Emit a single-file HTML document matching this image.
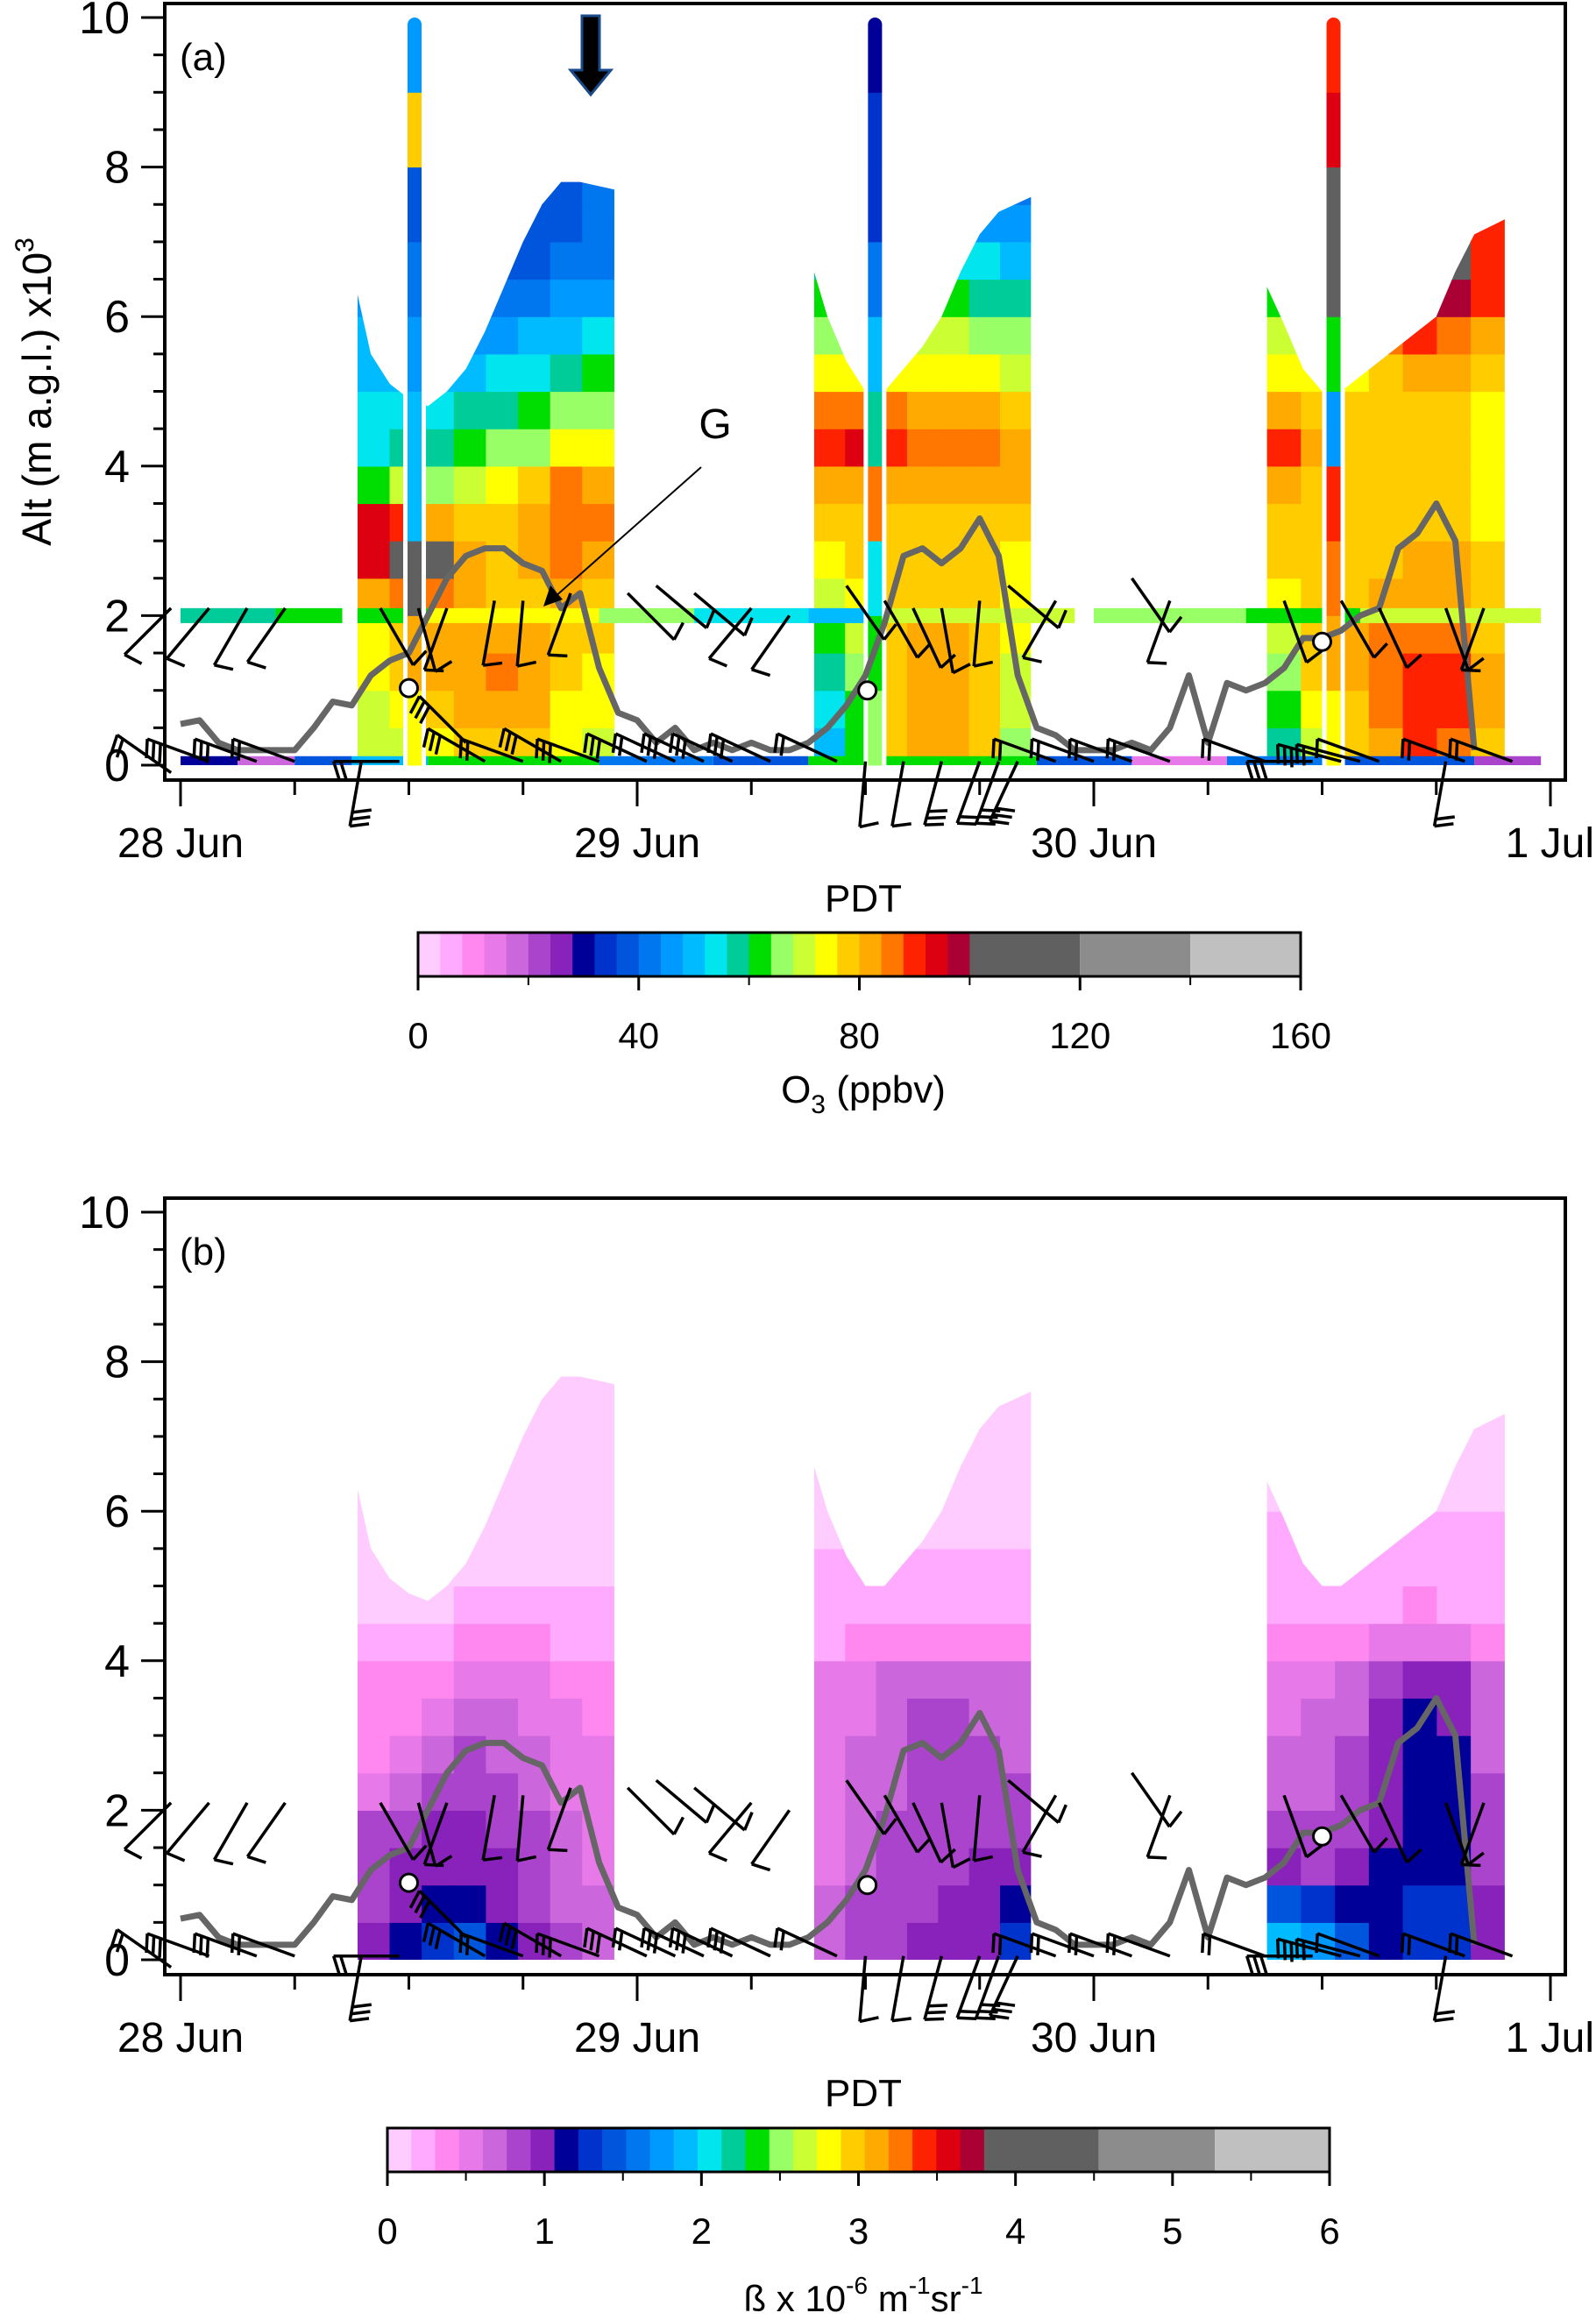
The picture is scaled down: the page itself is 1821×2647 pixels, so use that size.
<!DOCTYPE html>
<html><head><meta charset="utf-8"><style>
body{margin:0;background:#fff}
svg{display:block}
text{font-family:"Liberation Sans",sans-serif;fill:#000}
</style></head><body>
<svg id="fig" width="1821" height="2647" viewBox="0 0 1821 2647" xmlns="http://www.w3.org/2000/svg"></svg>
<script>
// ---- data ----
const dayLabels=["28 Jun","29 Jun","30 Jun","1 Jul"];
const yTickLabels=["0","2","4","6","8","10"];
const o3CbarTicks=["0","40","80","120","160"];
const betaCbarTicks=["0","1","2","3","4","5","6"];
const blockHours=[[9.3,22.8],[33.3,44.7],[57.1,69.6]];
const top1=[[9.3,6.3],[10,5.5],[11,5.1],[12,4.9],[13,4.8],[14,5.0],[15,5.3],[16,5.8],[17,6.4],[18,7.0],[19,7.5],[20,7.8],[21,7.8],[22.8,7.7]];
const top2=[[33.3,6.6],[34,6.0],[35,5.4],[36,5.0],[37,5.0],[38,5.3],[39,5.6],[40,6.0],[41,6.6],[42,7.1],[43,7.4],[44.7,7.6]];
const top3=[[57.1,6.4],[58,5.9],[59,5.3],[60,5.0],[61,5.0],[62,5.2],[63,5.4],[64,5.6],[65,5.8],[66,6.0],[67,6.6],[68,7.1],[69.6,7.3]];
const o3Block1=[[68,70,72,74,82,92,95,62,55,52,50,48,45,42,40,40],[70,74,76,78,84,100,90,70,58,54,50,45,42,40,38,38],[74,78,80,80,86,104,80,66,58,54,48,42,40,38,36,36],[76,80,82,80,80,80,76,70,62,56,50,44,40,36,34,34],[78,82,84,80,78,78,76,72,64,58,52,46,40,36,34,34],[76,80,82,80,78,80,82,76,66,60,54,48,42,38,36,36],[72,74,76,78,80,84,86,84,72,64,58,50,44,40,38,38],[70,72,74,76,78,82,84,82,72,66,60,52,46,42,40,40]];
const o3Block2=[[50,52,56,60,70,74,76,80,88,84,72,66,60,58,56,56],[60,62,64,70,74,76,78,82,92,86,74,66,60,56,54,54],[76,78,78,78,78,76,76,80,88,84,74,68,62,58,54,54],[80,82,82,80,78,76,76,80,86,82,74,68,62,56,50,50],[80,82,82,80,78,78,76,80,84,82,74,68,60,54,48,46],[76,78,78,78,76,76,76,80,86,82,72,66,58,52,46,44],[66,68,70,72,74,74,76,80,82,78,70,64,56,50,44,42]];
const o3Block3=[[58,62,66,70,74,76,76,80,88,82,74,68,62,60,60,60],[70,74,76,78,78,76,76,78,82,78,72,66,62,60,60,60],[76,78,80,80,78,76,76,76,78,76,74,70,66,64,62,62],[82,84,86,84,80,78,76,76,78,76,78,84,96,104,94,90],[88,90,90,86,82,80,78,78,78,78,82,88,100,106,94,92],[86,88,88,84,80,80,78,78,78,78,80,86,96,102,92,90],[78,80,80,78,76,76,74,74,74,74,76,82,88,90,88,88]];
const betaBlock1=[[0.95,0.9,0.85,0.8,0.55,0.45,0.4,0.35,0.2,0.15,0.1,0.1,0.08,0.08,0.08,0.08],[1.15,1.05,0.95,0.9,0.75,0.55,0.45,0.4,0.25,0.15,0.1,0.1,0.08,0.08,0.08,0.08],[1.25,1.1,1.0,0.95,0.85,0.7,0.6,0.45,0.3,0.15,0.1,0.1,0.08,0.08,0.08,0.08],[1.4,1.15,1.05,0.95,0.9,0.8,0.7,0.55,0.35,0.2,0.12,0.1,0.08,0.08,0.08,0.08],[1.15,1.05,0.95,0.9,0.85,0.75,0.65,0.55,0.4,0.25,0.15,0.1,0.08,0.08,0.08,0.08],[0.95,0.9,0.85,0.8,0.75,0.65,0.6,0.5,0.35,0.2,0.15,0.1,0.08,0.08,0.08,0.08],[0.8,0.75,0.7,0.65,0.6,0.55,0.5,0.45,0.3,0.2,0.15,0.1,0.08,0.08,0.08,0.08],[0.7,0.65,0.6,0.6,0.55,0.5,0.45,0.4,0.3,0.2,0.15,0.1,0.08,0.08,0.08,0.08]];
const betaBlock2=[[0.7,0.65,0.6,0.6,0.55,0.55,0.5,0.5,0.3,0.25,0.2,0.15,0.1,0.08,0.08,0.08],[0.85,0.8,0.75,0.7,0.7,0.65,0.6,0.6,0.35,0.25,0.2,0.15,0.1,0.08,0.08,0.08],[0.9,0.85,0.8,0.8,0.75,0.75,0.75,0.7,0.4,0.3,0.2,0.15,0.1,0.08,0.08,0.08],[0.95,0.9,0.85,0.85,0.85,0.8,0.8,0.75,0.45,0.3,0.2,0.15,0.1,0.08,0.08,0.08],[1.0,0.95,0.9,0.9,0.85,0.85,0.8,0.75,0.45,0.3,0.2,0.15,0.1,0.08,0.08,0.08],[1.05,1.0,0.95,0.9,0.85,0.8,0.75,0.75,0.4,0.3,0.2,0.15,0.1,0.08,0.08,0.08],[1.3,1.15,1.0,0.9,0.8,0.75,0.7,0.65,0.35,0.25,0.2,0.15,0.1,0.08,0.08,0.08]];
const betaBlock3=[[1.9,1.5,0.95,0.85,0.75,0.65,0.6,0.55,0.4,0.3,0.25,0.2,0.15,0.15,0.15,0.15],[1.8,1.3,0.9,0.85,0.75,0.7,0.65,0.6,0.4,0.3,0.25,0.2,0.15,0.15,0.15,0.15],[1.4,1.1,0.95,0.9,0.85,0.8,0.75,0.7,0.45,0.3,0.25,0.2,0.15,0.15,0.15,0.15],[1.2,1.15,1.1,1.05,1.05,1.0,0.95,0.9,0.5,0.3,0.25,0.2,0.15,0.15,0.15,0.15],[1.3,1.25,1.2,1.2,1.15,1.15,1.1,1.05,0.55,0.35,0.25,0.2,0.15,0.15,0.15,0.15],[1.3,1.25,1.2,1.15,1.1,1.1,1.05,1.0,0.5,0.3,0.25,0.2,0.15,0.15,0.15,0.15],[1.05,0.95,0.9,0.85,0.8,0.75,0.75,0.7,0.45,0.3,0.25,0.2,0.15,0.15,0.15,0.15]];
const sondeHours=[12.3,36.5,60.6];
const sonde1=[72,80,100,50,48,45,40,38,76,45];
const sonde2=[66,62,55,85,58,48,40,35,33,30];
const sonde3=[75,80,85,90,45,60,105,110,92,90];
const circleHours=[12.0,36.1,60.0];
const circleAlt=[1.03,1.0,1.65];
const strip2=[[0,5,58],[5,8.5,62],[9.3,13,62],[13,22,74],[22,27,64],[27,33,52],[33,37,48],[37,47,68],[48,56,66],[56,62,62],[62,71.5,68]];
const strip0=[[0,3,28],[3,6,18],[6,9,36],[9,13,50],[13,22,60],[22,28,42],[28,33,36],[33,45,62],[45,50,36],[50,55,14],[55,60,40],[60,68,38],[68,71.5,20]];
const blhHours=[0,1,2,3,4,5,6,7,8,9,10,11,12,13,14,15,16,17,18,19,20,21,22,23,24,25,26,27,28,29,30,31,32,33,34,35,36,37,38,39,40,41,42,43,44,45,46,47,48,49,50,51,52,53,54,55,56,57,58,59,60,61,62,63,64,65,66,67,68];
const blhKm=[0.55,0.6,0.3,0.2,0.2,0.2,0.2,0.5,0.85,0.8,1.2,1.4,1.5,2.0,2.5,2.8,2.9,2.9,2.7,2.6,2.1,2.3,1.3,0.7,0.6,0.3,0.5,0.2,0.3,0.2,0.3,0.2,0.2,0.3,0.5,0.8,1.2,1.9,2.8,2.9,2.7,2.9,3.3,2.8,1.2,0.5,0.4,0.2,0.2,0.2,0.3,0.2,0.5,1.2,0.3,1.1,1.0,1.1,1.3,1.7,1.7,1.8,2.0,2.1,2.9,3.1,3.5,3.0,0.2];
const barbHours=[-0.5,1.5,3.5,5.5,10.5,12.5,14,16.5,18,20.5,23.5,25,27,30,32,35,37,38.5,40,42,43.5,46,50,52,58,61,63,66.5,68.5,
 -0.5,1.5,4,6,9.5,11.5,15,16,18,20,22,24.5,26,27.5,29,31,34.5,36,38,40,42,43,44,46,48,50,52,57,59.5,61,62,63,66.5,67.5,70];
const barbAlt=[2.1,2.1,2.1,2.1,2.1,2.1,2.1,2.2,2.2,2.3,2.3,2.4,2.3,2.1,2.0,2.4,2.2,2.1,2.1,2.2,2.4,2.2,2.5,2.2,2.2,2.2,2.1,2.1,2.1,
 -0.1,0.05,0.05,0.05,0.05,0.05,0.3,0.05,0.05,0.05,0.05,0.05,0.05,0.05,0.05,0.05,0.05,0.05,0.05,0.05,0.05,0.05,0.05,0.05,0.05,0.05,0.05,0.05,0.05,0.05,0.05,0.05,0.05,0.05,0.05];
const barbAngle=[135,130,120,125,60,75,110,100,95,110,45,40,40,130,125,55,60,65,80,95,40,120,55,110,70,60,65,70,110,
 215,200,200,200,100,180,225,210,200,210,200,205,205,205,205,205,205,95,100,105,110,110,115,200,200,200,200,200,180,195,195,200,100,200,200];
const barbFeathers=[1,1,1,1,1,1,1,1,1,1,1,1,1,1,1,1,1,1,1,1,1,1,1,1,1,1,1,1,1,
 2,3,3,2,3,2,3,3,2,3,3,3,2,3,3,3,2,1,1,3,2,3,3,2,2,2,2,2,3,3,2,1,2,2,2];
const o3Colors=['#ffccff','#ffaaff','#ff88f0','#e879e8','#cc66dd','#aa44cc','#8822bb','#000099','#0033cc','#0055dd','#0077ee','#0099ff','#00bbff','#00e5ee','#00cc99','#00dd00','#99ff66','#ccff33','#ffff00','#ffcc00','#ffaa00','#ff7700','#ff2200','#dd0011','#aa0033'];
const grayColors=['#606060','#8c8c8c','#c0c0c0'];

// ---- helpers ----
const svg=document.getElementById('fig');
const NS='http://www.w3.org/2000/svg';
function mk(tag,attrs,parent){const e=document.createElementNS(NS,tag);for(const k in attrs)e.setAttribute(k,attrs[k]);(parent||svg).appendChild(e);return e;}
const X0=206,X1=1769;
function xh(h){return X0+h*(X1-X0)/72;}
function o3Color(v){if(v>=100){const i=Math.min(2,Math.floor((v-100)/20));return grayColors[i];}return o3Colors[Math.max(0,Math.min(24,Math.floor(v/4)))];}
function betaColor(v){if(v>=3.8){const i=Math.min(2,Math.floor((v-3.8)/0.7334));return grayColors[i];}return o3Colors[Math.max(0,Math.min(24,Math.floor(v/0.152)))];}

function panel(p,off,blocks,colorFn,withSonde){
  const y0=873+off;
  function ya(a){return y0-a*85.3;}
  const g=mk('g',{});
  
  
  const tops=[top1,top2,top3];
  blocks.forEach((blk,bi)=>{
    const [h0,h1]=blockHours[bi];
    const cp=mk('clipPath',{id:'clip'+p+bi},g);
    let pts=tops[bi].map(t=>xh(t[0])+','+ya(t[1])).join(' ');
    pts+=' '+xh(h1)+','+ya(0)+' '+xh(h0)+','+ya(0);
    mk('polygon',{points:pts},cp);
    const cg=mk('g',{'clip-path':'url(#clip'+p+bi+')'},g);
    
    
    const w=(h1-h0)/blk.length;
    blk.forEach((col,ci)=>{col.forEach((v,ri)=>{
      mk('rect',{x:xh(h0+ci*w),y:ya((ri+1)*0.5),width:xh(h0+(ci+1)*w)-xh(h0+ci*w)+0.6,height:85.3*0.5+0.6,fill:colorFn(v)},cg);
    });});
  });
  if(withSonde){
    [[strip2,1.9,2.1],[strip0,0,0.12]].forEach(([st,a0,a1])=>{st.forEach(s=>{
      const r=mk('rect',{x:xh(s[0]),y:ya(a1),width:xh(s[1])-xh(s[0]),height:ya(a0)-ya(a1),fill:o3Color(s[2])},g);
      
      
    });});
    [sonde1,sonde2,sonde3].forEach((sd,si)=>{
      const x=xh(sondeHours[si]);
      mk('rect',{x:x-13,y:ya(Math.min(8,tops[si][0][1])),width:26,height:ya(0)-ya(8),fill:'#fff'},g);
      sd.forEach((v,k)=>{
        const r=mk('rect',{x:x-8,y:ya(k+1)+(k==9?8:0),width:16,height:85.3+0.5-(k==9?8:0),fill:o3Color(v)},g);
        
        
      });
      mk('circle',{cx:x,cy:ya(10)+8,r:8,fill:o3Color(sd[9])},g);
    });
  }
  const d=blhHours.map((h,i)=>(i?'L':'M')+xh(h).toFixed(1)+','+ya(blhKm[i]).toFixed(1)).join(' ');
  const bl=mk('path',{d:d,fill:'none',stroke:'#666','stroke-width':7,'stroke-linejoin':'round'},g);
  
  
  circleHours.forEach((h,i)=>{
    const c=mk('circle',{cx:xh(h),cy:ya(circleAlt[i]),r:10,fill:'#fff',stroke:'#000','stroke-width':3},g);
    
    
  });
  barbHours.forEach((h,i)=>{
    const bx=xh(h),by=ya(barbAlt[i]);const a=barbAngle[i]*Math.PI/180;const L=75;
    const ex=bx+L*Math.cos(a),ey=by+L*Math.sin(a);
    const bg=mk('g',{stroke:'#000','stroke-width':3.5,fill:'none'},g);
    
    
    mk('line',{x1:bx,y1:by,x2:ex,y2:ey},bg);
    for(let k=0;k<barbFeathers[i];k++){
      const fx=ex-k*8*Math.cos(a),fy=ey-k*8*Math.sin(a);const pa=a-Math.PI/2-0.3;
      mk('line',{x1:fx,y1:fy,x2:fx+22*Math.cos(pa),y2:fy+22*Math.sin(pa)},bg);
    }
  });
  const fr=mk('rect',{x:188,y:4+off,width:1598,height:886,fill:'none',stroke:'#000','stroke-width':4},g);
  
  
  for(let k=0;k<=20;k++){const y=ya(k*0.5);mk('line',{x1:k%4==0?161:175,y1:y,x2:188,y2:y,stroke:'#000','stroke-width':3},g);}
  yTickLabels.forEach((l,i)=>{const t=mk('text',{x:148,y:ya(i*2)+18,'font-size':52,'text-anchor':'end'},g);t.textContent=l;
    });
  for(let k=0;k<=12;k++){const x=xh(k*6);mk('line',{x1:x,y1:890+off,x2:x,y2:(k%4==0?920:907)+off,stroke:'#000','stroke-width':3},g);}
  dayLabels.forEach((l,i)=>{const t=mk('text',{x:i==3?1819:xh(i*24),y:978+off,'font-size':48,'text-anchor':i==3?'end':'middle'},g);t.textContent=l;
    });
  const pd=mk('text',{x:985,y:1040+off,'font-size':44,'text-anchor':'middle'},g);pd.textContent='PDT';
  
  const yt=mk('text',{x:0,y:0,'font-size':46,'text-anchor':'middle',transform:'translate(58,447) rotate(-90)'},g);
  yt.innerHTML='Alt (m a.g.l.) x10<tspan font-size="30" dy="-20">3</tspan>';
  
  const pl=mk('text',{x:205,y:80+off,'font-size':44},g);pl.textContent='('+p+')';
  
}
panel('a',0,[o3Block1,o3Block2,o3Block3],o3Color,true);
panel('b',1363,[betaBlock1,betaBlock2,betaBlock3],betaColor,false);

const ar=mk('path',{d:'M664,18 L684,18 L684,80 L697,80 L674,108 L651,80 L664,80 Z',fill:'#000',stroke:'#1a4a8a','stroke-width':3});

const gt=mk('text',{x:816,y:500,'font-size':48,'text-anchor':'middle'});gt.textContent='G';

mk('line',{x1:800,y1:533,x2:632,y2:682,stroke:'#000','stroke-width':2});
mk('path',{d:'M620,692 L628,668 L642,684 Z',fill:'#000'});

function cbar(x0,x1,y0,maxv,coloredMax,grayEdges,ticks,name){
  const s=(x1-x0)/maxv;const g=mk('g',{});
  
  const bw=coloredMax/25;
  o3Colors.forEach((c,i)=>mk('rect',{x:x0+i*bw*s,y:y0,width:bw*s+0.6,height:50,fill:c},g));
  grayColors.forEach((c,i)=>mk('rect',{x:x0+grayEdges[i]*s,y:y0,width:(grayEdges[i+1]-grayEdges[i])*s,height:50,fill:c},g));
  mk('rect',{x:x0,y:y0,width:x1-x0,height:50,fill:'none',stroke:'#000','stroke-width':3},g);
  const step=maxv/(ticks.length-1);
  ticks.forEach((l,i)=>{const x=x0+i*step*s;mk('line',{x1:x,y1:y0+50,x2:x,y2:y0+66,stroke:'#000','stroke-width':3},g);
    if(i<ticks.length-1)mk('line',{x1:x+step*s/2,y1:y0+50,x2:x+step*s/2,y2:y0+60,stroke:'#000','stroke-width':2},g);
    const t=mk('text',{x:x,y:y0+132,'font-size':42,'text-anchor':'middle'},g);t.textContent=l;});
}
cbar(477,1484,1064,160,100,[100,120,140,160],o3CbarTicks,'o3-colorbar');
cbar(442,1517,2428,6,3.8,[3.8,4.53,5.27,6],betaCbarTicks,'beta-colorbar');
const t1=mk('text',{x:985,y:1258,'font-size':44,'text-anchor':'middle'});
t1.innerHTML='O<tspan font-size="30" dy="12">3</tspan><tspan dy="-12"> (ppbv)</tspan>';

const t2=mk('text',{x:985,y:2637,'font-size':42,'text-anchor':'middle'});
t2.innerHTML='ß x 10<tspan font-size="28" dy="-20">-6</tspan><tspan dy="20"> m</tspan><tspan font-size="28" dy="-20">-1</tspan><tspan dy="20">sr</tspan><tspan font-size="28" dy="-20">-1</tspan>';

</script>
</body></html>
